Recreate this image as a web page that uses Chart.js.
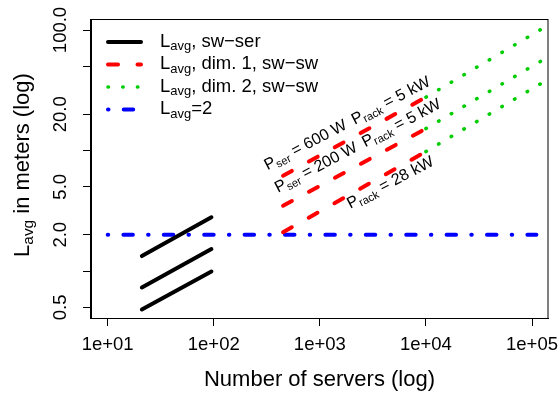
<!DOCTYPE html>
<html><head><meta charset="utf-8">
<script src="https://cdn.jsdelivr.net/npm/chart.js@4/dist/chart.umd.min.js"></script>
<style>html,body{margin:0;padding:0;background:#fff;}</style>
</head><body>
<canvas id="c" width="560" height="394"></canvas>
<script>
const FONT = '"Liberation Sans", Arial, Helvetica, sans-serif';

// ---- tick values and labels ----
const xTickValues = [10, 100, 1000, 10000, 100000];
const xTickLabels = ["1e+01", "1e+02", "1e+03", "1e+04", "1e+05"];
const yTickValues = [0.5, 1, 2, 5, 10, 20, 50, 100];
const yTickLabels = ["0.5", "", "2.0", "5.0", "", "20.0", "", "100.0"];

// ---- series ----
const swSerX = [21, 95];
const swSerLow = [0.48, 0.99];
const swSerMid = [0.73, 1.52];
const swSerHigh = [1.33, 2.79];

const dim1X = [450, 10000];
const dim1Low = [2.1, 9.8];
const dim1Mid = [3.48, 15.2];
const dim1High = [6.18, 27.7];

const dim2X = [10000, 100000, 200000];
const dim2Low = [9.8, 32.5, 46.5];
const dim2Mid = [15.2, 49.9, 71.4];
const dim2High = [27.7, 91.4, 131];

const refX = [10, 110000];
const refY = [2, 2];

// ---- text ----
const legendLabels = [
  [["L",0],["avg",1],[", sw\u2212ser",0]],
  [["L",0],["avg",1],[", dim. 1, sw\u2212sw",0]],
  [["L",0],["avg",1],[", dim. 2, sw\u2212sw",0]],
  [["L",0],["avg",1],["=2",0]]
];
const annoX = [1900, 2390, 4850];
const annoY = [15.5, 10.1, 5.0];
const annoText = [
  [["P",0],["ser",1],[" = 600 W \u2009P",0],["rack",1],[" = 5 kW",0]],
  [["P",0],["ser",1],[" = 200 W \u2009P",0],["rack",1],[" = 5 kW",0]],
  [["P",0],["rack",1],[" = 28 kW",0]]
];
const xTitle = "Number of servers (log)";
const yTitle = [["L",0],["avg",1],[" in meters (log)",0]];

// ---- styles ----
const sBlack = {color:'#000000', width:4, dash:[]};
const sRed   = {color:'#FF0000', width:4, dash:[10, 19.5]};
const sGreen = {color:'#00CD00', width:3.5, dash:[0.5, 14.2]};
const sBlue  = {color:'#0000FF', width:4, dash:[0.5, 15.2, 9.5, 15.2]};
const legendStyles = [sBlack, sRed, sGreen, sBlue];

const pts = (xs, ys) => xs.map((x, i) => ({x: x, y: ys[i]}));
const ds = (xs, ys, s) => ({
  data: pts(xs, ys), borderColor: s.color, borderWidth: s.width, borderDash: s.dash,
  borderCapStyle: 'round', borderJoinStyle: 'round', pointRadius: 0, fill: false,
  tension: 0, clip: 0
});

function richWidth(ctx, segs, size) {
  let w = 0;
  for (const [t, sub] of segs) {
    ctx.font = (sub ? size * 0.7 : size) + 'px ' + FONT;
    w += ctx.measureText(t).width;
  }
  return w;
}
function drawRich(ctx, segs, size, x0) {
  let x = x0;
  for (const [t, sub] of segs) {
    ctx.font = (sub ? size * 0.7 : size) + 'px ' + FONT;
    ctx.fillText(t, x, sub ? size * 0.19 : 0);
    x += ctx.measureText(t).width;
  }
}

const overlay = {
  id: 'overlay',
  afterDatasetsDraw(chart) {
    const ctx = chart.ctx, ca = chart.chartArea;
    const xs = chart.scales.x, ys = chart.scales.y;
    ctx.save();
    // box
    ctx.strokeStyle = '#000'; ctx.lineWidth = 1;
    ctx.strokeRect(ca.left - 0.5, ca.top + 0.5, ca.right - ca.left + 0.5, ca.bottom - ca.top);
    ctx.fillStyle = '#000';
    ctx.textBaseline = 'alphabetic';
    ctx.textAlign = 'left';
    // y tick labels (rotated)
    for (let i = 0; i < yTickValues.length; i++) {
      if (!yTickLabels[i]) continue;
      const py = ys.getPixelForValue(yTickValues[i]);
      ctx.save();
      ctx.translate(61, py);
      ctx.rotate(-Math.PI / 2);
      ctx.font = '18.5px ' + FONT;
      ctx.textAlign = 'center';
      ctx.textBaseline = 'middle';
      ctx.fillText(yTickLabels[i], 0, 0);
      ctx.restore();
    }
    // y title
    {
      const size = 22;
      const w = richWidth(ctx, yTitle, size);
      const cy = (ca.top + ca.bottom) / 2 - 3.5;
      ctx.save();
      ctx.translate(29, cy);
      ctx.rotate(-Math.PI / 2);
      drawRich(ctx, yTitle, size, -w / 2);
      ctx.restore();
    }
    // annotations
    for (let i = 0; i < annoText.length; i++) {
      const px = xs.getPixelForValue(annoX[i]);
      const py = ys.getPixelForValue(annoY[i]);
      const size = 16;
      const w = richWidth(ctx, annoText[i], size);
      ctx.save();
      ctx.translate(px, py);
      ctx.rotate(-27.5 * Math.PI / 180);
      drawRich(ctx, annoText[i], size, -w / 2);
      ctx.restore();
    }
    // legend
    const rowY = [42, 64.5, 87, 109.5];
    for (let i = 0; i < legendLabels.length; i++) {
      const s = legendStyles[i];
      ctx.save();
      ctx.strokeStyle = s.color; ctx.lineWidth = s.width; ctx.lineCap = 'round';
      ctx.setLineDash(s.dash);
      ctx.beginPath(); ctx.moveTo(108, rowY[i]); ctx.lineTo(141, rowY[i]); ctx.stroke();
      ctx.restore();
      ctx.save();
      ctx.translate(160, rowY[i] + 4.5);
      drawRich(ctx, legendLabels[i], 18.5, 0);
      ctx.restore();
    }
    ctx.restore();
  }
};

const chart = new Chart(document.getElementById('c'), {
  type: 'line',
  data: {
    datasets: [
      ds(swSerX, swSerLow, sBlack), ds(swSerX, swSerMid, sBlack), ds(swSerX, swSerHigh, sBlack),
      ds(dim1X, dim1Low, sRed), ds(dim1X, dim1Mid, sRed), ds(dim1X, dim1High, sRed),
      ds(dim2X, dim2Low, sGreen), ds(dim2X, dim2Mid, sGreen), ds(dim2X, dim2High, sGreen),
      ds(refX, refY, sBlue)
    ]
  },
  options: {
    responsive: false, animation: false, devicePixelRatio: 1,
    layout: {padding: {left: 83, right: 12, top: 19, bottom: 0}},
    plugins: {legend: {display: false}, tooltip: {enabled: false}},
    scales: {
      x: {
        type: 'logarithmic', position: 'bottom', bounds: 'data',
        min: 6.962, max: 141500,
        afterBuildTicks: (s) => { s.ticks = xTickValues.map(v => ({value: v})); },
        afterFit: (s) => { s.height = 76; s.paddingLeft = 0; s.paddingRight = 0; },
        ticks: {
          autoSkip: false, maxRotation: 0, minRotation: 0, padding: 8, color: '#000',
          font: {family: FONT, size: 18.5, lineHeight: 1.2},
          callback: (v, i) => xTickLabels[i]
        },
        grid: {drawOnChartArea: false, drawTicks: true, tickLength: 8, color: '#000', lineWidth: 1},
        border: {display: true, color: '#000', width: 1},
        title: {display: true, text: xTitle, color: '#000',
                font: {family: FONT, size: 22, lineHeight: 1.2}, padding: {top: 0, bottom: 1}}
      },
      y: {
        type: 'logarithmic', position: 'left', bounds: 'data',
        min: 0.4076, max: 123.4,
        afterBuildTicks: (s) => { s.ticks = yTickValues.map(v => ({value: v})); },
        afterFit: (s) => { s.width = 8; s.paddingTop = 0; s.paddingBottom = 0; },
        ticks: {display: false},
        grid: {drawOnChartArea: false, drawTicks: true, tickLength: 8, color: '#000', lineWidth: 1},
        border: {display: true, color: '#000', width: 1}
      }
    }
  },
  plugins: [overlay]
});
</script>
</body></html>
